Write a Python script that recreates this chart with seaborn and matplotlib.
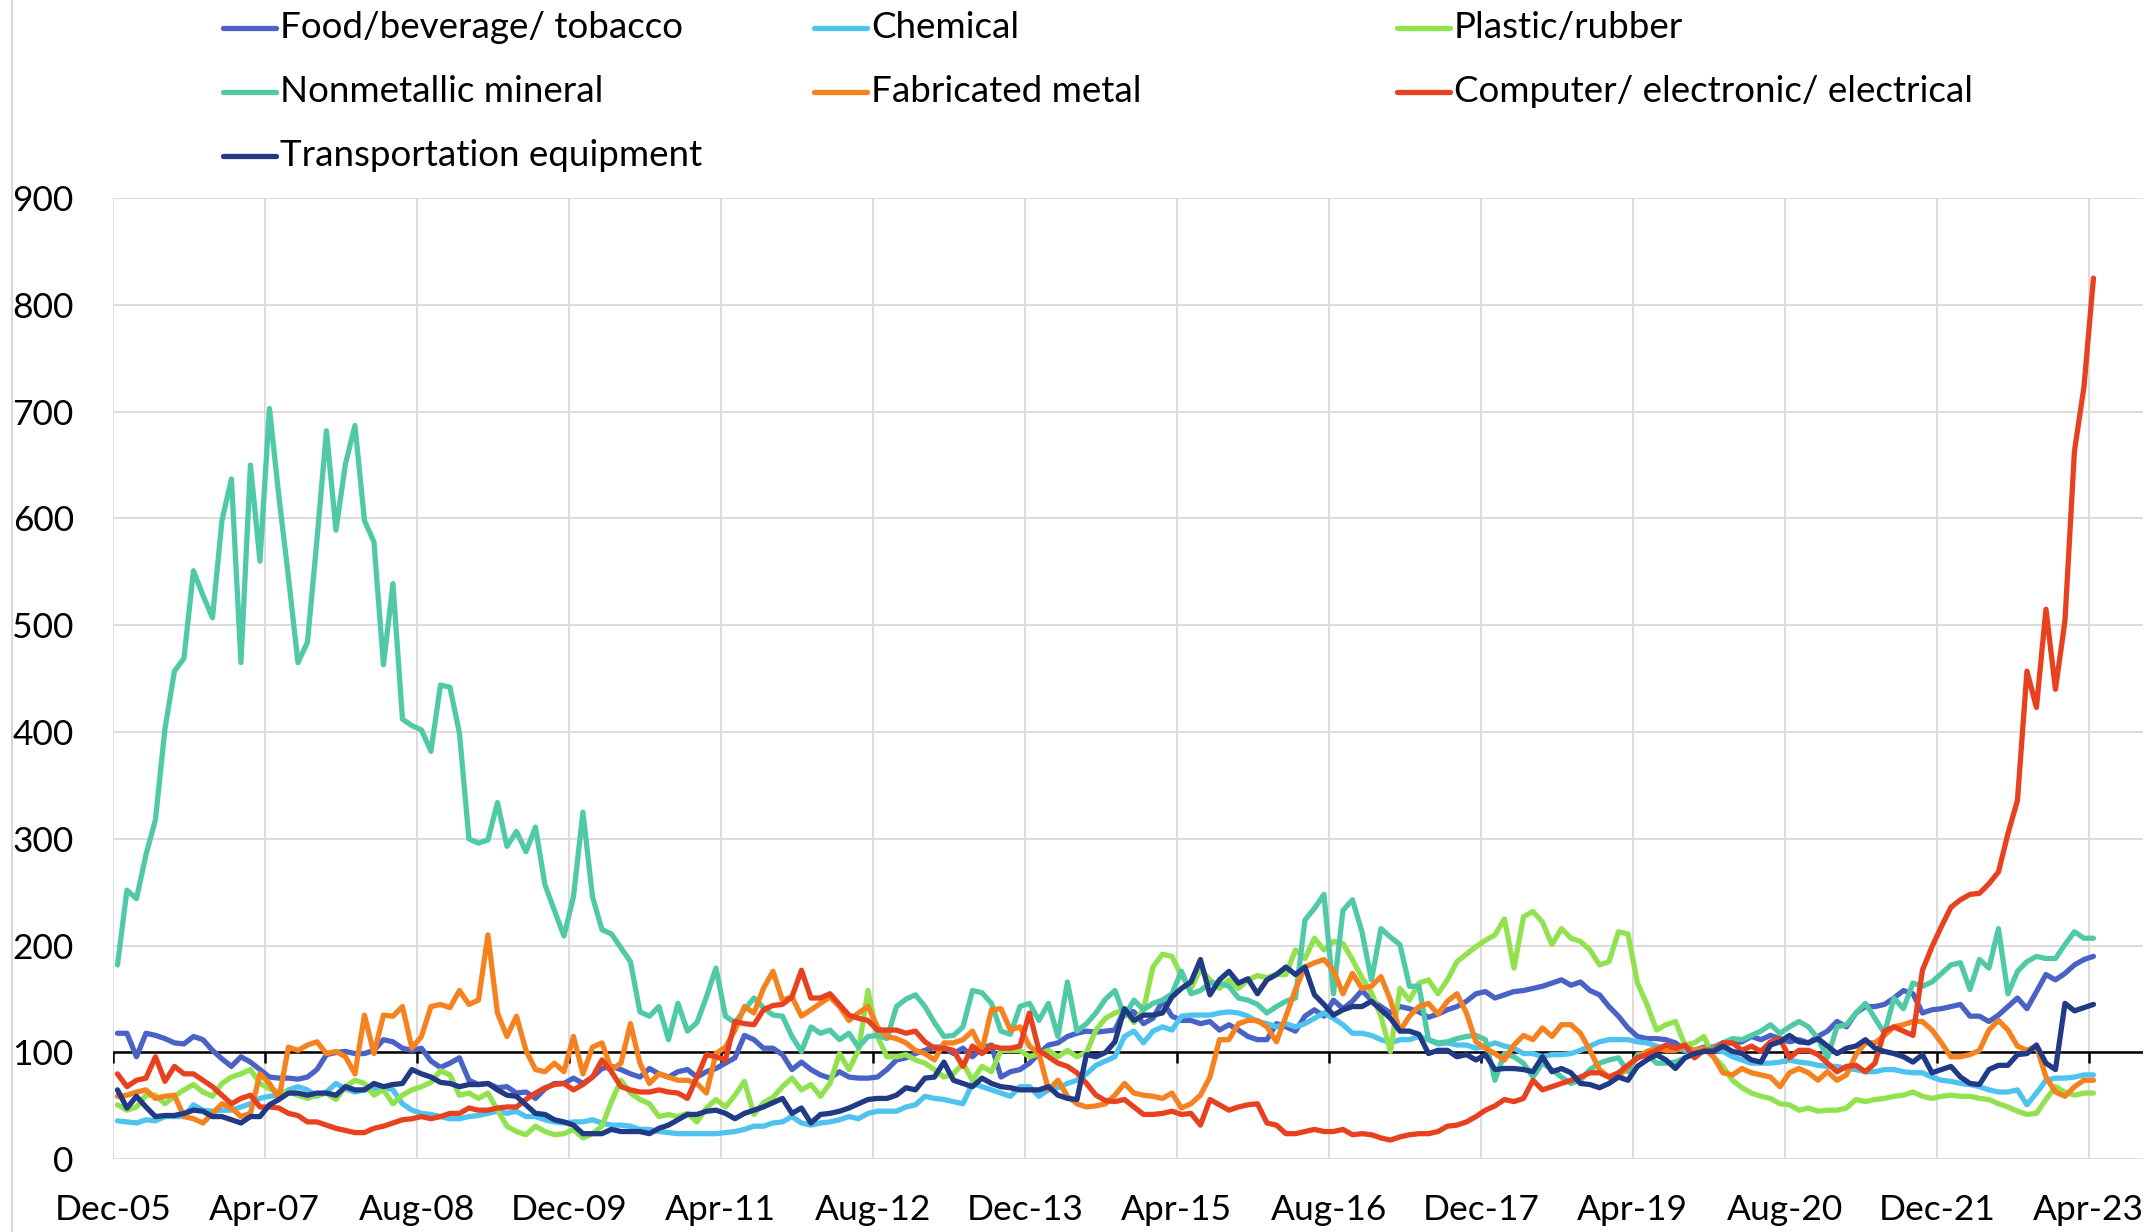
import matplotlib
matplotlib.use("Agg")
import matplotlib.pyplot as plt
from matplotlib.lines import Line2D
import numpy as np
import pandas as pd
import seaborn as sns

# Monthly index values, Dec-05 .. Apr-23 (209 months)
tick_labels = ["Dec-05", "Apr-07", "Aug-08", "Dec-09", "Apr-11", "Aug-12", "Dec-13",
               "Apr-15", "Aug-16", "Dec-17", "Apr-19", "Aug-20", "Dec-21", "Apr-23"]

food = [118, 118, 96, 118, 116, 113, 109, 108, 115, 112, 102, 94, 87, 96, 91, 84,
        77, 76, 76, 75, 77, 84, 98, 100, 101, 99, 99, 102, 112, 110, 104, 102,
        104, 92, 86, 90, 95, 74, 70, 71, 67, 68, 62, 63, 57, 66, 71, 71,
        76, 71, 77, 85, 87, 84, 80, 77, 85, 80, 77, 82, 84, 77, 82, 85,
        90, 95, 116, 112, 104, 104, 98, 84, 91, 84, 79, 76, 82, 77, 76, 76,
        77, 84, 93, 95, 99, 102, 105, 105, 99, 104, 96, 104, 107, 77, 82, 84,
        90, 99, 107, 109, 115, 118, 120, 119, 120, 121, 140, 138, 127, 132, 148, 134,
        130, 130, 127, 129, 121, 126, 121, 115, 112, 112, 127, 124, 120, 134, 140, 134,
        149, 141, 148, 158, 149, 143, 137, 143, 141, 138, 133, 136, 140, 143, 148, 155,
        157, 151, 154, 157, 158, 160, 162, 165, 168, 163, 166, 158, 154, 143, 134, 123,
        115, 113, 113, 112, 109, 102, 102, 105, 105, 109, 109, 110, 115, 112, 116, 113,
        110, 112, 109, 115, 120, 129, 124, 137, 143, 143, 145, 151, 158, 155, 137, 140,
        141, 143, 145, 134, 134, 129, 135, 143, 151, 141, 157, 173, 168, 174, 182, 187,
        190]

chemical = [36, 35, 34, 37, 36, 40, 40, 40, 51, 46, 45, 46, 46, 49, 52, 57,
            59, 60, 65, 68, 65, 59, 63, 71, 66, 63, 65, 66, 68, 65, 52, 46,
            43, 42, 40, 38, 38, 40, 41, 43, 45, 43, 45, 40, 40, 37, 35, 34,
            35, 35, 37, 34, 32, 32, 31, 28, 28, 26, 25, 24, 24, 24, 24, 24,
            25, 26, 28, 31, 31, 34, 35, 40, 34, 32, 34, 35, 37, 40, 38, 43,
            45, 45, 45, 49, 51, 59, 57, 56, 54, 52, 71, 68, 65, 62, 59, 68,
            68, 59, 65, 67, 71, 74, 80, 88, 92, 96, 115, 120, 109, 120, 124, 121,
            134, 135, 135, 135, 137, 138, 137, 134, 129, 127, 124, 127, 124, 127, 132, 137,
            132, 126, 118, 118, 116, 112, 109, 112, 112, 115, 112, 108, 109, 107, 107, 104,
            106, 109, 106, 104, 99, 99, 96, 98, 98, 99, 102, 106, 110, 112, 112, 112,
            110, 109, 106, 104, 104, 102, 99, 102, 102, 101, 96, 93, 90, 90, 90, 91,
            93, 91, 90, 88, 87, 87, 85, 84, 82, 82, 84, 84, 82, 81, 81, 77,
            74, 73, 71, 70, 68, 65, 63, 63, 65, 51, 62, 74, 76, 76, 77, 79,
            79]

plastic = [51, 46, 49, 60, 60, 52, 59, 65, 70, 63, 59, 71, 77, 80, 84, 71,
           66, 63, 63, 60, 57, 60, 62, 56, 68, 74, 71, 60, 65, 52, 60, 65,
           68, 72, 83, 79, 60, 62, 57, 62, 46, 31, 26, 23, 31, 26, 23, 24,
           28, 20, 24, 31, 54, 74, 62, 56, 52, 40, 42, 40, 43, 35, 48, 56,
           49, 60, 73, 42, 53, 58, 68, 76, 65, 70, 59, 71, 99, 84, 102, 158,
           115, 96, 96, 98, 93, 90, 84, 77, 80, 90, 74, 87, 82, 102, 102, 102,
           96, 99, 102, 96, 102, 96, 100, 121, 132, 137, 140, 128, 140, 180, 192, 190,
           172, 160, 178, 168, 160, 168, 160, 168, 172, 170, 173, 173, 196, 188, 207, 196,
           204, 202, 187, 170, 156, 134, 101, 160, 149, 165, 168, 155, 168, 185, 192, 199,
           205, 210, 225, 179, 227, 232, 222, 201, 216, 207, 204, 196, 182, 185, 213, 211,
           165, 145, 121, 126, 129, 107, 109, 115, 96, 87, 74, 67, 62, 59, 57, 52,
           51, 46, 48, 45, 46, 46, 48, 56, 54, 56, 57, 59, 60, 63, 59, 57,
           59, 60, 59, 59, 57, 56, 52, 49, 45, 42, 43, 56, 68, 63, 60, 62,
           62]

nonmetallic = [182, 252, 244, 285, 318, 403, 457, 469, 551, 528, 507, 598, 637, 465, 650, 560,
               703, 620, 545, 465, 484, 580, 682, 589, 651, 687, 598, 578, 463, 539, 412, 406,
               402, 382, 444, 442, 399, 300, 296, 299, 334, 293, 307, 288, 311, 257, 233, 209,
               246, 325, 246, 215, 211, 198, 185, 138, 134, 143, 112, 146, 120, 128, 152, 179,
               134, 128, 140, 151, 142, 135, 134, 115, 101, 124, 118, 121, 112, 118, 105, 115,
               116, 113, 143, 150, 154, 143, 128, 115, 116, 124, 158, 156, 146, 120, 117, 143,
               146, 130, 146, 115, 166, 120, 127, 137, 150, 158, 134, 149, 140, 146, 149, 155,
               176, 155, 158, 165, 165, 162, 151, 149, 145, 137, 143, 148, 151, 224, 235, 248,
               155, 233, 243, 213, 168, 216, 208, 201, 162, 162, 112, 109, 110, 113, 115, 116,
               112, 74, 99, 96, 90, 77, 90, 84, 77, 71, 74, 84, 90, 93, 95, 82,
               98, 99, 90, 90, 91, 95, 99, 102, 104, 109, 113, 112, 116, 120, 126, 118,
               124, 129, 124, 113, 95, 124, 126, 137, 146, 132, 118, 151, 141, 165, 162, 166,
               174, 182, 184, 159, 187, 179, 216, 155, 176, 185, 190, 188, 188, 201, 213, 207,
               207]

fabricated = [59, 60, 63, 65, 57, 59, 60, 40, 38, 34, 43, 52, 48, 40, 43, 80,
              71, 57, 105, 102, 107, 110, 99, 101, 96, 80, 135, 99, 135, 134, 143, 104,
              115, 143, 145, 142, 158, 145, 149, 210, 137, 115, 134, 102, 84, 82, 90, 82,
              115, 80, 105, 109, 84, 90, 127, 90, 71, 80, 77, 74, 74, 71, 62, 99,
              105, 121, 143, 137, 160, 176, 149, 152, 134, 140, 146, 152, 143, 130, 137, 143,
              124, 115, 113, 109, 102, 99, 93, 109, 109, 112, 120, 102, 140, 141, 121, 124,
              106, 99, 65, 74, 59, 52, 49, 50, 52, 60, 71, 62, 60, 59, 57, 62,
              48, 52, 60, 77, 112, 112, 127, 130, 130, 124, 110, 134, 159, 180, 184, 187,
              177, 155, 174, 160, 162, 171, 149, 120, 134, 143, 146, 136, 148, 155, 137, 110,
              104, 99, 93, 107, 116, 112, 123, 115, 126, 126, 118, 102, 84, 77, 77, 87,
              95, 101, 104, 102, 102, 106, 102, 104, 96, 81, 79, 85, 81, 79, 77, 68,
              81, 85, 81, 74, 82, 74, 79, 98, 109, 109, 116, 124, 126, 129, 129, 121,
              109, 96, 96, 98, 102, 121, 130, 121, 106, 102, 106, 77, 63, 59, 68, 74,
              74]

computer = [80, 68, 74, 76, 96, 73, 87, 80, 80, 74, 68, 60, 52, 57, 60, 49,
            49, 48, 43, 41, 35, 35, 32, 29, 27, 25, 25, 29, 31, 34, 37, 38,
            40, 38, 40, 43, 43, 48, 46, 46, 48, 49, 49, 56, 62, 67, 70, 71,
            65, 70, 77, 93, 82, 68, 65, 63, 63, 65, 63, 62, 57, 77, 98, 96,
            93, 129, 127, 126, 140, 144, 145, 152, 177, 151, 151, 155, 145, 135, 132, 130,
            121, 121, 121, 118, 120, 110, 104, 104, 102, 87, 106, 99, 106, 104, 104, 106,
            137, 102, 96, 90, 87, 81, 71, 60, 55, 54, 56, 49, 42, 42, 43, 45,
            42, 43, 32, 56, 51, 46, 49, 51, 52, 34, 32, 24, 24, 26, 28, 26,
            26, 28, 23, 24, 23, 20, 18, 21, 23, 24, 24, 26, 31, 32, 35, 40,
            46, 50, 56, 54, 57, 74, 65, 68, 71, 74, 77, 81, 81, 77, 81, 88,
            95, 98, 102, 107, 104, 107, 95, 102, 102, 109, 109, 102, 106, 101, 110, 113,
            95, 102, 102, 98, 90, 82, 87, 88, 82, 90, 120, 124, 120, 116, 177, 199,
            218, 236, 243, 248, 249, 258, 269, 305, 336, 457, 423, 515, 440, 504, 663, 723,
            825]

transport = [65, 48, 59, 49, 40, 41, 41, 43, 46, 45, 40, 40, 37, 34, 40, 40,
             51, 56, 62, 62, 60, 62, 62, 60, 68, 65, 65, 71, 68, 70, 71, 84,
             80, 77, 72, 71, 68, 70, 70, 71, 65, 60, 59, 51, 43, 42, 37, 35,
             32, 24, 24, 24, 28, 26, 26, 26, 24, 29, 32, 37, 42, 42, 45, 46,
             43, 38, 43, 46, 49, 53, 57, 43, 48, 34, 42, 43, 45, 48, 52, 56,
             57, 57, 60, 67, 65, 76, 77, 91, 74, 71, 68, 76, 71, 68, 67, 65,
             65, 65, 68, 60, 57, 56, 98, 96, 100, 110, 141, 130, 135, 135, 137, 152,
             160, 166, 187, 154, 168, 176, 165, 169, 155, 168, 173, 180, 173, 180, 154, 145,
             135, 140, 143, 143, 148, 140, 132, 120, 120, 117, 99, 102, 102, 96, 98, 93,
             98, 84, 85, 85, 84, 82, 96, 82, 85, 81, 71, 70, 67, 71, 77, 74,
             87, 93, 98, 93, 85, 95, 99, 101, 101, 106, 101, 99, 93, 91, 107, 110,
             116, 110, 109, 113, 106, 99, 104, 106, 112, 104, 101, 99, 96, 91, 98, 81,
             84, 87, 77, 71, 70, 84, 88, 88, 98, 99, 107, 90, 84, 146, 139, 142,
             145]

series_names = ["Food/beverage/ tobacco", "Chemical", "Plastic/rubber",
                "Nonmetallic mineral", "Fabricated metal",
                "Computer/ electronic/ electrical", "Transportation equipment"]
series_values = [food, chemical, plastic, nonmetallic, fabricated, computer, transport]
colors = ["#4A62C6", "#4FC3EF", "#92E24F", "#50C9A7", "#F5821F", "#E8411F", "#203A85"]

# long-form table for seaborn; x is the month index (points sit mid-month)
frames = []
for name, vals in zip(series_names, series_values):
    assert len(vals) == 209, (name, len(vals))
    frames.append(pd.DataFrame({"month": np.arange(len(vals)) + 0.5,
                                "value": vals, "series": name}))
df = pd.concat(frames, ignore_index=True)

sns.set_theme(style="white")
plt.rcParams["font.family"] = ["Lato", "DejaVu Sans"]
plt.rcParams["lines.solid_joinstyle"] = "round"
plt.rcParams["lines.solid_capstyle"] = "round"

W, H = 2151, 1232
fig = plt.figure(figsize=(W / 100, H / 100), dpi=100)
ax = fig.add_axes([112.7 / W, (H - 1159.3) / H, (2143 - 112.7) / W, (1159.3 - 198) / H])

sns.lineplot(data=df, x="month", y="value", hue="series", hue_order=series_names,
             palette=colors, linewidth=3.8, estimator=None, legend=False, ax=ax, zorder=3)

tick_pos = np.arange(len(tick_labels)) * 16
ax.set_xlim(0, (2143 - 112.7) / 9.5)
ax.set_ylim(0, 900)
ax.set_xticks(tick_pos)
ax.set_xticklabels(tick_labels)
ax.set_yticks(range(0, 901, 100))
ax.grid(True, color="#d9d9d9", linewidth=1.3)
ax.set_axisbelow(True)
for s in ax.spines.values():
    s.set_visible(False)
ax.set_xlabel("")
ax.set_ylabel("")

# horizontal axis crosses at 100, with its tick marks
ax.axhline(100, color="black", linewidth=1.8, zorder=2)
ax.vlines(tick_pos, 90, 100, color="black", linewidth=1.8, zorder=2)

fs = 25.5
ax.tick_params(axis="x", length=0, labelsize=fs, pad=25, colors="black")
ax.tick_params(axis="y", length=0, labelsize=fs, pad=28, colors="black")

# chart border on the far left
fig.add_artist(Line2D([12 / W, 12 / W], [0, 1], transform=fig.transFigure,
                      color="#d9d9d9", linewidth=1.5))

# legend, three columns laid out like the original
col_x = [223, 814, 1397]
row_y = [28, 92, 156]
order = [(0, 0), (0, 1), (0, 2), (1, 0), (1, 1), (1, 2), (2, 0)]
for (r, c), name, col in zip(order, series_names, colors):
    x0 = col_x[c]
    y = row_y[r]
    fig.add_artist(Line2D([x0 / W, (x0 + 53) / W], [1 - y / H, 1 - y / H],
                          transform=fig.transFigure, color=col, linewidth=3.8,
                          solid_capstyle="round"))
    fig.text((x0 + 57) / W, 1 - y / H, name, fontsize=26.5, va="center", ha="left",
             color="black")

fig.savefig("out.png", dpi=100)
